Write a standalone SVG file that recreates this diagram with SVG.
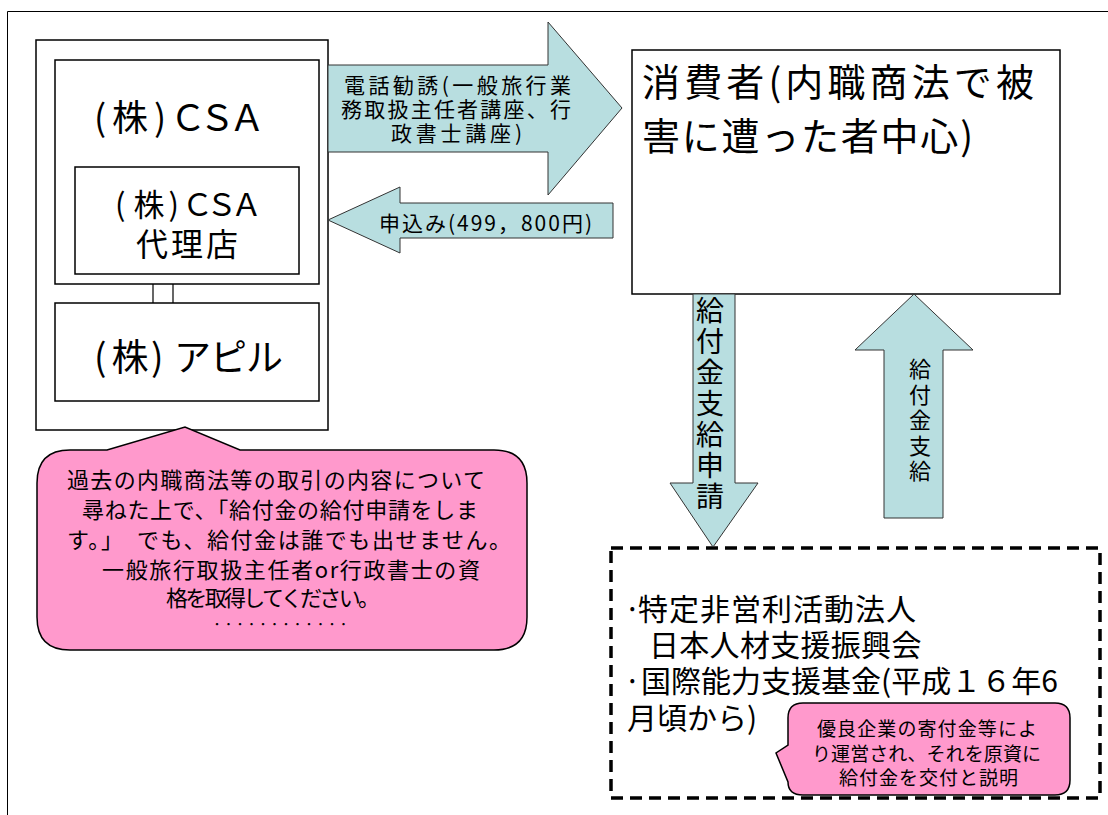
<svg xmlns="http://www.w3.org/2000/svg" width="1108" height="815" viewBox="0 0 1108 815">
<style>
text{font-family:"Noto Sans CJK JP","Noto Sans CJK SC",sans-serif;fill:#000}
.box{fill:#fff;stroke:#000;stroke-width:1.5}
.arr{fill:#B8DEE0;stroke:#333;stroke-width:1}
.pink{fill:#FF99CC;stroke:#000;stroke-width:1.5}
.vert{writing-mode:vertical-rl;text-orientation:upright}
</style>
<rect width="1108" height="815" fill="#fff"/>
<path d="M7.5,815 V11.5 H1108" fill="none" stroke="#000" stroke-width="1"/>

<g id="group-left">
<rect class="box" x="36" y="40" width="292" height="390"/>
</g>
<g id="node-csa">
<rect class="box" x="55" y="60" width="264" height="224"/>
<text font-size="36" x="94 112 154 170 199 229" y="131">(株)ＣＳＡ</text>
</g>
<g id="node-agency">
<rect class="box" x="75" y="167" width="224" height="107"/>
<text font-size="31" x="115 133.5 168.5 182 206 231" y="216">(株)ＣＳＡ</text>
<text font-size="32" x="136" y="256" textLength="102" lengthAdjust="spacing">代理店</text>
</g>
<g id="node-apil">
<rect class="box" x="55" y="303" width="264" height="98"/>
<text font-size="37" x="94 111.5 151 174 210 246" y="371">(株)アピル</text>
</g>
<g id="node-consumer">
<rect class="box" x="632" y="50" width="428" height="244"/>
<text font-size="38" x="642" y="96" textLength="392" lengthAdjust="spacing">消費者(内職商法で被</text>
<text font-size="38" x="642" y="150" textLength="331" lengthAdjust="spacing">害に遭った者中心)</text>
</g>
<g id="node-fund">
<rect x="611" y="548" width="489" height="250" fill="#fff" stroke="#000" stroke-width="3.5" stroke-dasharray="12 7"/>
<text font-size="30" x="624 638" y="620" letter-spacing="1">·特定非営利活動法人</text>
<text font-size="30" x="649" y="656" letter-spacing="0.3">日本人材支援振興会</text>
<text font-size="30" x="624 641" y="692">·国際能力支援基金(平成１６年6</text>
<text font-size="30" x="627" y="729">月頃から)</text>
</g>
<g id="callout-fund">
<path class="pink" d="M803,703 L1055,703 Q1070,703 1070,718 L1070,780 Q1070,795 1055,795 L803,795 Q788,795 788,782 L776,753 L788,745 L788,718 Q788,703 803,703 Z"/>
<text font-size="19" x="817" y="736" textLength="220" lengthAdjust="spacing">優良企業の寄付金等によ</text>
<text font-size="19" x="812" y="761" textLength="229" lengthAdjust="spacing">り運営され、それを原資に</text>
<text font-size="19" x="839" y="785" textLength="179" lengthAdjust="spacing">給付金を交付と説明</text>
</g>
<g id="callout-csa">
<path class="pink" d="M70,450 L107,450 L185,427 L240,450 L494,450 Q527,450 527,483 L527,617 Q527,650 494,650 L70,650 Q37,650 37,617 L37,483 Q37,450 70,450 Z"/>
<text font-size="22" x="67" y="488" textLength="418" lengthAdjust="spacing">過去の内職商法等の取引の内容について</text>
<text font-size="22" x="82" y="518" textLength="396" lengthAdjust="spacing">尋ねた上で、「給付金の給付申請をしま</text>
<text font-size="22" x="67" y="548" textLength="444" lengthAdjust="spacing">す。」　でも、給付金は誰でも出せません。</text>
<text font-size="22" x="102" y="578" textLength="378" lengthAdjust="spacing">一般旅行取扱主任者or行政書士の資</text>
<text font-size="22" x="166" y="606" textLength="214" lengthAdjust="spacing">格を取得してください。</text>
<text font-size="14" x="213.5" y="628.5" letter-spacing="4.5">････････････</text>
</g>

<g id="connectors">
<line x1="153" y1="284" x2="153" y2="303" stroke="#000" stroke-width="1.2"/>
<line x1="173" y1="284" x2="173" y2="303" stroke="#000" stroke-width="1.2"/>
<g id="arrow-solicit">
<polygon class="arr" points="328,65 548,65 548,22 622,108 548,195 548,152 328,152"/>
<text font-size="21" x="344" y="93" textLength="227" lengthAdjust="spacing">電話勧誘(一般旅行業</text>
<text font-size="21" x="341" y="117" textLength="230" lengthAdjust="spacing">務取扱主任者講座、行</text>
<text font-size="21" x="391" y="141" textLength="131" lengthAdjust="spacing">政書士講座)</text>
</g>
<g id="arrow-apply">
<polygon class="arr" points="328,220 400,187 400,203 613,203 613,238 400,238 400,253"/>
<text font-size="21" x="379" y="231" textLength="213" lengthAdjust="spacing">申込み(499，800円)</text>
</g>
<g id="arrow-request">
<polygon class="arr" points="693,294 735,294 735,483 758,483 713,547 670,483 693,483"/>
<text class="vert" font-size="28" x="710" y="296" letter-spacing="3">給付金支給申請</text>
</g>
<g id="arrow-pay">
<polygon class="arr" points="914,294 973,350 943,350 943,518 884,518 884,350 855,350"/>
<text class="vert" font-size="22" x="920" y="358" letter-spacing="3.5">給付金支給</text>
</g>
</g>
</svg>
